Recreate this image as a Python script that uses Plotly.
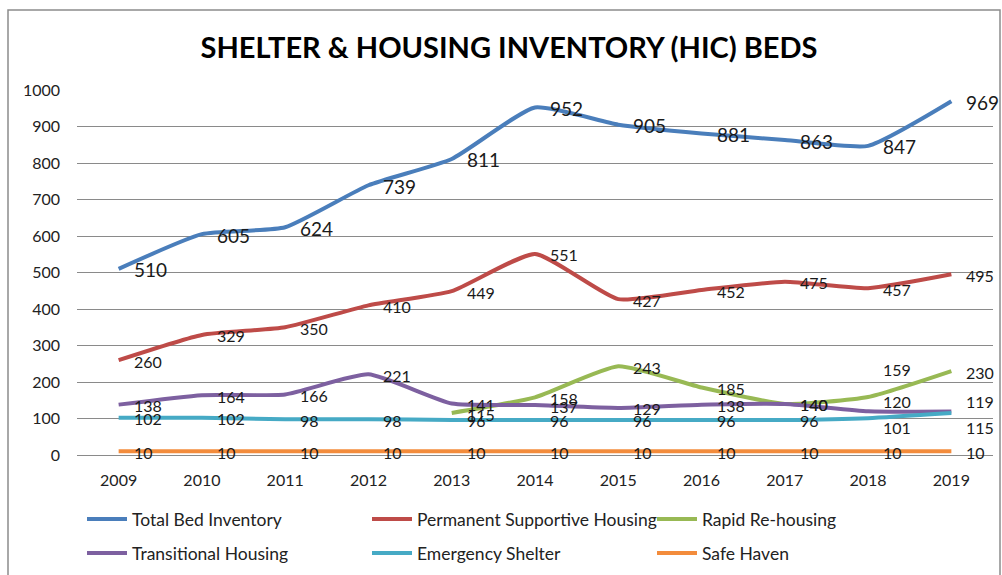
import plotly.graph_objects as go

years = ["2009", "2010", "2011", "2012", "2013", "2014", "2015", "2016", "2017", "2018", "2019"]
total_beds = [510, 605, 624, 739, 811, 952, 905, 881, 863, 847, 969]
permanent_supportive = [260, 329, 350, 410, 449, 551, 427, 452, 475, 457, 495]
rapid_rehousing = [None, None, None, None, 115, 158, 243, 185, 140, 159, 230]
transitional = [138, 164, 166, 221, 141, 137, 129, 138, 140, 120, 119]
emergency_shelter = [102, 102, 98, 98, 96, 96, 96, 96, 96, 101, 115]
safe_haven = [10, 10, 10, 10, 10, 10, 10, 10, 10, 10, 10]

series = [
    ("Total Bed Inventory", total_beds, "#4A7EBB", 19, "legend"),
    ("Permanent Supportive Housing", permanent_supportive, "#BE4B48", 16, "legend"),
    ("Rapid Re-housing", rapid_rehousing, "#98B954", 16, "legend"),
    ("Transitional Housing", transitional, "#7D60A0", 16, "legend2"),
    ("Emergency Shelter", emergency_shelter, "#46AAC5", 16, "legend2"),
    ("Safe Haven", safe_haven, "#F38C3C", 16, "legend2"),
]

# labels nudged vertically (px) so crowded values stay readable
label_nudge = {
    ("Rapid Re-housing", "2018"): 27,
    ("Transitional Housing", "2018"): 10,
    ("Emergency Shelter", "2018"): -9,
    ("Transitional Housing", "2019"): 10,
    ("Emergency Shelter", "2019"): -14,
}

FONT = "Lato, 'Open Sans', sans-serif"
W, H = 1002, 575

fig = go.Figure()
annotations = []
for name, values, color, fsize, leg in series:
    fig.add_trace(go.Scatter(
        x=years, y=values, name=name, mode="lines", legend=leg,
        line=dict(color=color, width=4, shape="spline", smoothing=0.5),
        connectgaps=False,
    ))
    for i, (yr, v) in enumerate(zip(years, values)):
        if v is None:
            continue
        annotations.append(dict(
            x=i, y=v, xref="x", yref="y", text=str(v), showarrow=False,
            xanchor="left", yanchor="middle", xshift=13,
            yshift=label_nudge.get((name, yr), -1),
            font=dict(family=FONT, size=fsize, color="#1a1a1a"),
        ))

legend_style = dict(orientation="h", x=82 / W, xref="container", xanchor="left",
                    yref="container", yanchor="middle",
                    entrywidth=230, entrywidthmode="pixels",
                    font=dict(family=FONT, size=17.5, color="#222222"),
                    itemwidth=40, bgcolor="rgba(0,0,0,0)")

fig.update_layout(
    width=W, height=H,
    margin=dict(l=77, r=9, t=90, b=120, autoexpand=False),
    paper_bgcolor="white", plot_bgcolor="white",
    title=dict(text="<b>SHELTER & HOUSING INVENTORY (HIC) BEDS</b>",
               x=0.508, xanchor="center", y=0.917, yanchor="middle",
               font=dict(family=FONT, size=29, color="#000000")),
    font=dict(family=FONT, color="#222222"),
    showlegend=True,
    legend=dict(legend_style, y=1 - 519 / H),
    legend2=dict(legend_style, y=1 - 553 / H),
    annotations=annotations,
    shapes=[dict(type="rect", xref="paper", yref="paper",
                 x0=(8 - 77) / 916, x1=(1000 - 77) / 916,
                 y0=(455 - 590) / 365, y1=(455 - 10) / 365,
                 line=dict(color="#8c8c8c", width=1.5), fillcolor="rgba(0,0,0,0)",
                 layer="below")],
)
fig.update_xaxes(type="category", range=[-0.5, len(years) - 0.5],
                 showgrid=False, showline=False, zeroline=False,
                 ticks="", tickfont=dict(family=FONT, size=16, color="#222222"),
                 ticklabelstandoff=14)
fig.update_yaxes(range=[0, 1000], dtick=100, showgrid=True, gridcolor="#8a8a8a",
                 gridwidth=1, zeroline=True, zerolinecolor="#8a8a8a", zerolinewidth=1,
                 showline=False, ticks="", tickfont=dict(family=FONT, size=16, color="#222222"),
                 ticklabelstandoff=16)

fig.write_html("out.html")
